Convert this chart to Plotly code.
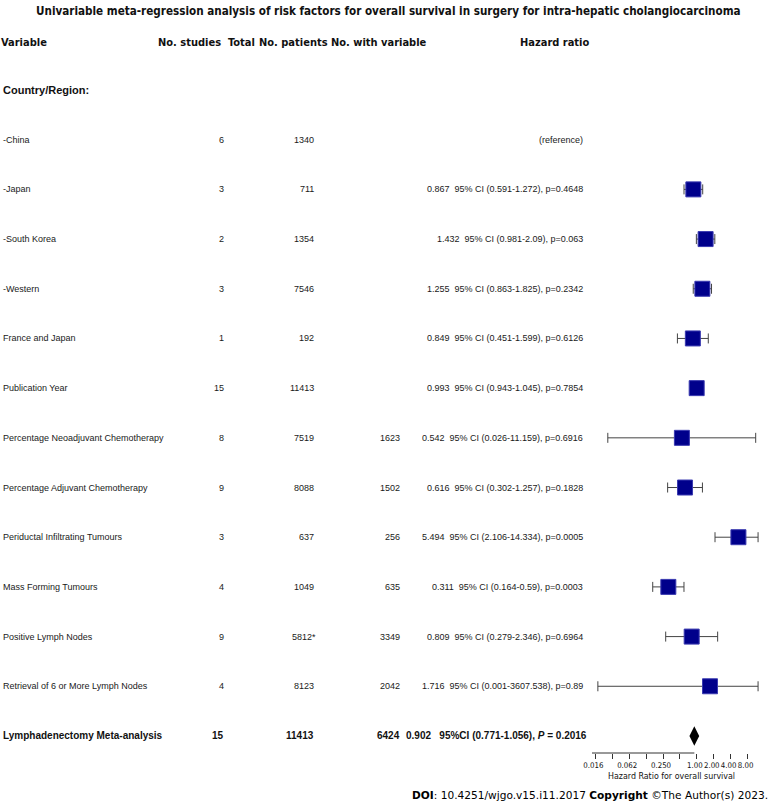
import math
import plotly.graph_objects as go

# ---------------- data ----------------
variables = ["Country/Region:", "-China", "-Japan", "-South Korea", "-Western",
             "France and Japan", "Publication Year",
             "Percentage Neoadjuvant Chemotherapy", "Percentage Adjuvant Chemotherapy",
             "Periductal Infiltrating Tumours", "Mass Forming Tumours",
             "Positive Lymph Nodes", "Retrieval of 6 or More Lymph Nodes",
             "Lymphadenectomy Meta-analysis"]
n_studies = ["", "6", "3", "2", "3", "1", "15", "8", "9", "3", "4", "9", "4", "15"]
n_patients = ["", "1340", "711", "1354", "7546", "192", "11413", "7519", "8088",
              "637", "1049", "5812*", "8123", "11413"]
n_with_var = ["", "", "", "", "", "", "", "1623", "1502", "256", "635", "3349", "2042", "6424"]
hr = [None, None, 0.867, 1.432, 1.255, 0.849, 0.993, 0.542, 0.616, 5.494, 0.311, 0.809, 1.716, 0.902]
ci_low = [None, None, 0.591, 0.981, 0.863, 0.451, 0.943, 0.026, 0.302, 2.106, 0.164, 0.279, 0.001, 0.771]
ci_high = [None, None, 1.272, 2.09, 1.825, 1.599, 1.045, 11.159, 1.257, 14.334, 0.59, 2.346, 3607.538, 1.056]
p_values = [None, None, "0.4648", "0.063", "0.2342", "0.6126", "0.7854", "0.6916", "0.1828",
            "0.0005", "0.0003", "0.6964", "0.89", "0.2016"]
tick_values = [2.0 ** k for k in range(-6, 4)]
tick_labels = ["0.016", "", "0.062", "", "0.250", "", "1.00", "2.00", "4.00", "8.00"]

bold_rows = {0, 13}
summary_row = 13

W, H = 771, 808
ROW0_PX, ROW_STEP = 90.0, 49.69
AXIS_PX, TOP_PX = 753.0, 65.0
CLIP_LO, CLIP_HI = 0.0173, 12.3
PAD = 2


def px_x(p):
    # pixel -> paper, with a small empirical correction for annotation placement
    corr = -max(0.0, 8.0 - 0.01 * p)
    return (p + corr) / W


def px_y(p):
    return (H - p) / H


fig = go.Figure()

rows = [i for i in range(len(variables)) if hr[i] is not None and i != summary_row]
xs = [hr[i] for i in rows]
lo_disp = [min(max(ci_low[i], CLIP_LO), CLIP_HI) for i in rows]
hi_disp = [min(max(ci_high[i], CLIP_LO), CLIP_HI) for i in rows]
fig.add_trace(go.Scatter(
    x=xs, y=rows, mode="markers",
    marker=dict(symbol="square", size=15, color="#00008B",
                line=dict(color="#3a3ab0", width=1)),
    error_x=dict(type="data", symmetric=False,
                 array=[h - x for h, x in zip(hi_disp, xs)],
                 arrayminus=[x - l for x, l in zip(xs, lo_disp)],
                 color="#444444", thickness=1, width=5),
    hoverinfo="skip", cliponaxis=False,
))

fig.add_trace(go.Scatter(
    x=[hr[summary_row]], y=[summary_row], mode="markers",
    marker=dict(symbol="diamond-tall", size=14, color="black"),
    hoverinfo="skip", cliponaxis=False,
))

fig.add_shape(type="line", xref="x", yref="paper", x0=0, x1=0,
              y0=px_y(AXIS_PX), y1=px_y(TOP_PX),
              line=dict(color="#dcdcdc", width=1.5), layer="below")
fig.add_shape(type="line", xref="x", yref="paper",
              x0=math.log10(tick_values[0]), x1=math.log10(tick_values[-1]),
              y0=px_y(AXIS_PX), y1=px_y(AXIS_PX),
              line=dict(color="#333333", width=1))

ARIAL = "Liberation Sans, Arial, sans-serif"
COND = "DejaVu Sans Condensed, DejaVu Sans, sans-serif"
body_font = dict(family=ARIAL, size=9, color="#1a1a1a")
sum_font = dict(family=ARIAL, size=10, color="#111111")
group_font = dict(family=ARIAL, size=11, color="#111111")
head_font = dict(family=COND, size=11.6, color="#111111")
hdr_font = dict(family=COND, size=11, color="#111111")

ann = []
ann.append(dict(text="<b>Univariable meta-regression analysis of risk factors for overall survival in surgery for intra-hepatic cholangiocarcinoma</b>",
                x=px_x(388), y=px_y(11), xanchor="center", yanchor="middle", font=head_font))
headers = [("Variable", 0), ("No. studies", 157), ("Total", 227), ("No. patients", 258),
           ("No. with variable", 330), ("Hazard ratio", 520)]
for txt, xp in headers:
    ann.append(dict(text="<b>%s</b>" % txt, x=px_x(xp - PAD), y=px_y(42), xanchor="left",
                    align="left", yanchor="middle", font=hdr_font))

for i, name in enumerate(variables):
    if i == 0:
        f = group_font
    elif i == summary_row:
        f = sum_font
    else:
        f = body_font
    b = i in bold_rows
    wrap = (lambda s: "<b>%s</b>" % s) if b else (lambda s: s)
    ann.append(dict(text=wrap(name), x=px_x(2 - PAD), y=i, yref="y", xanchor="left",
                    align="left", yanchor="middle", font=f))
    if n_studies[i]:
        ann.append(dict(text=wrap(n_studies[i]), x=px_x(223 + PAD), y=i, yref="y", xanchor="right",
                        align="right", yanchor="middle", font=f))
    if n_patients[i]:
        ann.append(dict(text=wrap(n_patients[i]), x=px_x(313 + PAD + (2 if n_patients[i].endswith("*") else 0)),
                        y=i, yref="y", xanchor="right", align="right", yanchor="middle", font=f))
    if n_with_var[i]:
        ann.append(dict(text=wrap(n_with_var[i]), x=px_x(400 + PAD), y=i, yref="y", xanchor="right",
                        align="right", yanchor="middle", font=f))
    if i == 1:
        ann.append(dict(text="(reference)", x=px_x(583 + PAD), y=i, yref="y", xanchor="right",
                        align="right", yanchor="middle", font=f))
    elif hr[i] is not None:
        def fmt(v):
            return ("%.3f" % v).rstrip("0") if v < 100 else "%.3f" % v
        if i == summary_row:
            s = "<b>%.3f&nbsp;&nbsp;&nbsp;95%%CI (%s-%s), <i>P</i> = %s</b>" % (
                hr[i], fmt(ci_low[i]), fmt(ci_high[i]), p_values[i])
            xr = 587
        else:
            s = "%.3f&nbsp;&nbsp;95%% CI (%s-%s), p=%s" % (
                hr[i], fmt(ci_low[i]), fmt(ci_high[i]), p_values[i])
            xr = 583
        ann.append(dict(text=s, x=px_x(xr + PAD), y=i, yref="y", xanchor="right",
                        align="right", yanchor="middle", font=f))

axis_font = dict(family=COND, size=7.8, color="#111111")
ann.append(dict(text="Hazard Ratio for overall survival", x=px_x(672), y=px_y(776),
                xanchor="center", yanchor="middle",
                font=dict(family=COND, size=8.8, color="#111111")))
ann.append(dict(text="<b>DOI</b>: 10.4251/wjgo.v15.i11.2017 <b>Copyright</b> ©The Author(s) 2023.",
                x=px_x(768 + PAD), y=px_y(795), xanchor="right", align="right", yanchor="middle",
                font=dict(family="DejaVu Sans, Verdana, sans-serif", size=10.6, color="#000000")))

for a in ann:
    a.setdefault("xref", "paper")
    a.setdefault("yref", "paper")
    a["showarrow"] = False

x_lo = math.log10(tick_values[0]) - 3.3 / 56.84
x_hi = math.log10(tick_values[-1]) + 14.7 / 56.84

fig.update_layout(
    width=W, height=H, margin=dict(l=0, r=0, t=0, b=0),
    paper_bgcolor="white", plot_bgcolor="white", showlegend=False,
    annotations=ann,
    xaxis=dict(type="log", domain=[590 / W, 762 / W], range=[x_lo, x_hi],
               tickvals=tick_values, ticktext=tick_labels, ticks="outside",
               ticklen=5, tickcolor="#333333", tickwidth=1, tickangle=0,
               ticklabelshift=-2,
               showline=False, showgrid=False, zeroline=False,
               tickfont=axis_font, anchor="y", fixedrange=True),
    yaxis=dict(domain=[px_y(AXIS_PX), px_y(TOP_PX)],
               range=[(AXIS_PX - ROW0_PX) / ROW_STEP, (TOP_PX - ROW0_PX) / ROW_STEP],
               visible=False, fixedrange=True),
)

fig.write_html("out.html", config={"displayModeBar": False, "responsive": False},
               post_script="document.body.style.margin='0px';document.body.style.overflow='hidden';")
